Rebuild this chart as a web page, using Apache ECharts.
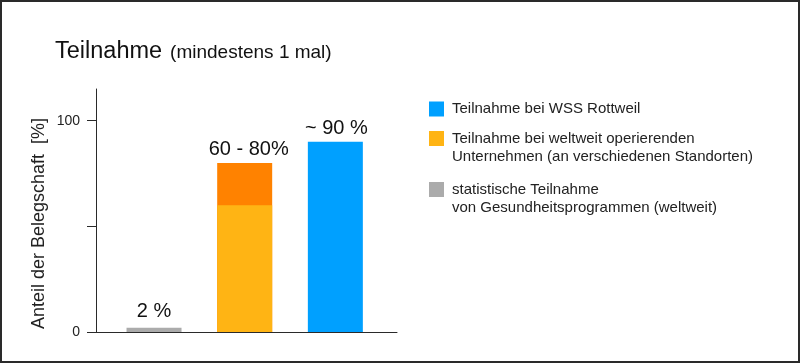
<!DOCTYPE html>
<html>
<head>
<meta charset="utf-8">
<script src="https://cdn.jsdelivr.net/npm/echarts@6/dist/echarts.min.js"></script>
<style>
  html, body { margin: 0; padding: 0; background: #fff; }
  #wrap { position: relative; width: 800px; height: 363px; }
  #chart { position: absolute; left: 0; top: 0; width: 800px; height: 363px; }
  #frame { position: absolute; left: 0; top: 0; width: 800px; height: 363px; box-sizing: border-box;
           border: 2px solid #2a2a2a; pointer-events: none; }
</style>
</head>
<body>
<div id="wrap"><div id="chart"></div><div id="frame"></div></div>
<script>
// ---- data ----
const titleMain = 'Teilnahme';
const titleSub = '(mindestens 1 mal)';
const yAxisName = 'Anteil der Belegschaft  [%]';
const positions = [1, 2, 3];               // bar slots left to right
const grayValues = [2];                    // statistische Teilnahme
const yellowValues = [60];                 // weltweit operierende Unternehmen (untere Grenze)
const orangeValues = [80];                 // weltweit operierende Unternehmen (obere Grenze)
const blueValues = [90];                   // WSS Rottweil
const barLabels = ['2 %', '60 - 80%', '~ 90 %'];
const yTickValues = [0, 50, 100];
const yLabelValues = [0, 100];
const legendNames = [
  'Teilnahme bei WSS Rottweil',
  'Teilnahme bei weltweit operierenden\nUnternehmen (an verschiedenen Standorten)',
  'statistische Teilnahme\nvon Gesundheitsprogrammen (weltweit)'
];

// ---- chart ----
const chart = echarts.init(document.getElementById('chart'), null, { renderer: 'canvas' });
const font = 'Liberation Sans, Arial, Helvetica, sans-serif';
const axisColor = '#2a2a2a';

function legendCfg(name, top, multi) {
  return {
    orient: 'vertical', left: 429, top: top, padding: 0, itemGap: 0,
    itemWidth: 15, itemHeight: 15, icon: 'rect',
    selectedMode: false,
    formatter: multi ? (n => ' \n' + n) : (n => n),
    textStyle: { fontFamily: font, fontSize: 15, lineHeight: 18, color: '#222',
                 padding: [0, 0, 0, 3] },
    data: [name]
  };
}

const option = {
  backgroundColor: 'transparent',
  animation: false,
  textStyle: { fontFamily: font },
  title: {
    left: 55, top: 40, padding: 0,
    text: '{a|' + titleMain + '}{s| }{b|' + titleSub + '}',
    textStyle: {
      fontWeight: 'normal',
      rich: {
        a: { fontFamily: font, fontSize: 23.5, fontWeight: 'normal', color: '#111' },
        s: { fontFamily: font, fontSize: 18, width: 8 },
        b: { fontFamily: font, fontSize: 19, fontWeight: 'normal', color: '#111', padding: [1, 0, 0, 0] }
      }
    }
  },
  legend: [
    legendCfg(legendNames[0], 100, false),
    legendCfg(legendNames[1], 111.5, true),
    legendCfg(legendNames[2], 162.5, true)
  ],
  grid: { left: 96, right: 403, top: 89, bottom: 31, containLabel: false },
  xAxis: {
    type: 'value', min: 0.36, max: 3.68,
    axisLine: { show: true, onZero: false, lineStyle: { color: axisColor, width: 1 } },
    axisTick: { show: false }, axisLabel: { show: false }, splitLine: { show: false }
  },
  yAxis: {
    type: 'value', min: 0, max: 115,
    name: yAxisName, nameLocation: 'middle', nameRotate: 90, nameGap: 48,
    nameTextStyle: { fontFamily: font, fontSize: 18, color: '#222', padding: [0, 26, 0, 0] },
    axisLine: { show: true, lineStyle: { color: axisColor, width: 1 } },
    axisTick: { show: true, length: 9, customValues: yTickValues, lineStyle: { color: axisColor } },
    axisLabel: { customValues: yLabelValues, fontSize: 14, color: '#222', margin: 16, fontFamily: font },
    splitLine: { show: false }
  },
  series: [
    {
      name: legendNames[2], type: 'bar', barWidth: 55, barGap: '-100%',
      itemStyle: { color: '#ababab' },
      data: grayValues.map(v => [positions[0], v]),
      label: { show: true, position: 'top', distance: 6, fontSize: 20, color: '#111',
               formatter: () => barLabels[0] }
    },
    {
      name: 'Spanne', type: 'bar', barWidth: 55, barGap: '-100%',
      itemStyle: { color: '#ff8200' },
      data: orangeValues.map(v => [positions[1], v]),
      label: { show: true, position: 'top', distance: 3, offset: [4, 0], fontSize: 20, color: '#111',
               formatter: () => barLabels[1] }
    },
    {
      name: legendNames[1], type: 'bar', barWidth: 55, barGap: '-100%',
      itemStyle: { color: '#ffb414' },
      data: yellowValues.map(v => [positions[1], v])
    },
    {
      name: legendNames[0], type: 'bar', barWidth: 55, barGap: '-100%',
      itemStyle: { color: '#00a0ff' },
      data: blueValues.map(v => [positions[2], v]),
      label: { show: true, position: 'top', distance: 3, offset: [1, 0], fontSize: 20, color: '#111',
               formatter: () => barLabels[2] }
    }
  ]
};
chart.setOption(option);
</script>
</body>
</html>
